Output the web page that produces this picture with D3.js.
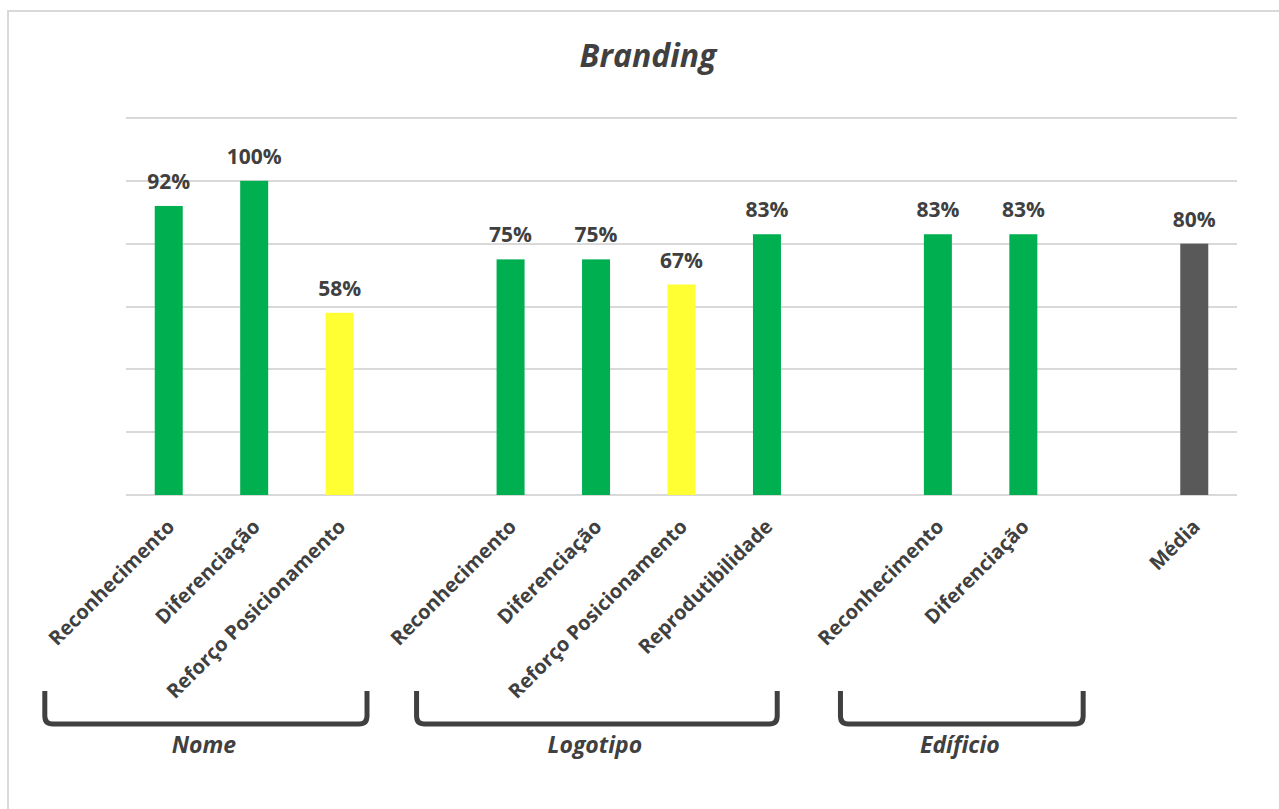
<!DOCTYPE html>
<html>
<head>
<meta charset="utf-8">
<script src="https://cdn.jsdelivr.net/npm/d3@7"></script>
<style>
  html, body { margin: 0; padding: 0; background: #ffffff; }
  svg { display: block; }
  text { font-family: "Open Sans", "DejaVu Sans", sans-serif; }
</style>
</head>
<body>
<svg id="chart" width="1279" height="809"></svg>
<script>
// ---- data ----
const categories = [
  "Reconhecimento", "Diferenciação", "Reforço Posicionamento", "",
  "Reconhecimento", "Diferenciação", "Reforço Posicionamento", "Reprodutibilidade", "",
  "Reconhecimento", "Diferenciação", "",
  "Média"
];
const values = [0.92, 1.00, 0.58, null, 0.75, 0.75, 0.67, 0.83, null, 0.83, 0.83, null, 0.80];
const colorKeys = ["good", "good", "warn", null, "good", "good", "warn", "good", null, "good", "good", null, "avg"];
const groupNames = ["Nome", "Logotipo", "Edíficio"];
const groupFirst = [0, 4, 9];
const groupLast = [2, 7, 10];
const yTicks = [0, 0.2, 0.4, 0.6, 0.8, 1.0, 1.2];
const title = "Branding";

// ---- styles / layout ----
const palette = { good: "#00B050", warn: "#FFFF33", avg: "#595959" };
const textColor = "#404040";
const gridColor = "#D9D9D9";
const plot = { left: 126, right: 1237, top: 118, bottom: 495 };
const barWidth = 28;
// bracket extents relative to first/last slot centers (in units of slot step)
const bracketPad = [[-1.45, 0.32], [-1.1, 0.12], [-1.14, 0.7]];

const svg = d3.select("#chart");

// border of chart area
svg.append("rect")
  .attr("x", 8).attr("y", 11)
  .attr("width", 1400).attr("height", 1000)
  .attr("fill", "none").attr("stroke", gridColor).attr("stroke-width", 2);

const x = d3.scaleBand()
  .domain(d3.range(categories.length))
  .range([plot.left, plot.right])
  .padding(0);
const step = x.step();
const cx = i => x(i) + step / 2;

const y = d3.scaleLinear().domain([0, 1.2]).range([plot.bottom, plot.top]);

// gridlines
svg.append("g")
  .selectAll("line")
  .data(yTicks)
  .join("line")
  .attr("x1", plot.left).attr("x2", plot.right)
  .attr("y1", d => Math.round(y(d))).attr("y2", d => Math.round(y(d)))
  .attr("stroke", gridColor).attr("stroke-width", 2);

// title
svg.append("text")
  .attr("x", 648).attr("y", 67)
  .attr("text-anchor", "middle")
  .attr("font-size", 32).attr("font-weight", 700).attr("font-style", "italic")
  .attr("fill", textColor)
  .text(title);

const data = values.map((v, i) => ({ i, v, c: colorKeys[i], label: categories[i] }))
  .filter(d => d.v !== null);

// bars
svg.append("g")
  .selectAll("rect")
  .data(data)
  .join("rect")
  .attr("x", d => cx(d.i) - barWidth / 2)
  .attr("width", barWidth)
  .attr("y", d => y(d.v))
  .attr("height", d => y(0) - y(d.v))
  .attr("fill", d => palette[d.c]);

// data labels
svg.append("g")
  .selectAll("text")
  .data(data)
  .join("text")
  .attr("x", d => cx(d.i))
  .attr("y", d => y(d.v) - 17)
  .attr("text-anchor", "middle")
  .attr("font-size", 21).attr("font-weight", 700)
  .attr("fill", textColor)
  .text(d => Math.round(d.v * 100) + "%");

// category labels (rotated)
svg.append("g")
  .selectAll("text")
  .data(data)
  .join("text")
  .attr("transform", d => `translate(${cx(d.i) + 7},${plot.bottom + 33}) rotate(-45)`)
  .attr("text-anchor", "end")
  .attr("font-size", 20).attr("font-weight", 700)
  .attr("fill", textColor)
  .text(d => d.label);

// group brackets
const bTop = 691, bBottom = 724, r = 8;
const groups = groupNames.map((name, k) => {
  const l = cx(groupFirst[k]) + bracketPad[k][0] * step;
  const rr = cx(groupLast[k]) + bracketPad[k][1] * step;
  return { name, l, r: rr };
});
svg.append("g")
  .selectAll("path")
  .data(groups)
  .join("path")
  .attr("d", g => `M${g.l},${bTop} V${bBottom - r} Q${g.l},${bBottom} ${g.l + r},${bBottom} H${g.r - r} Q${g.r},${bBottom} ${g.r},${bBottom - r} V${bTop}`)
  .attr("fill", "none")
  .attr("stroke", textColor)
  .attr("stroke-width", 5);

svg.append("g")
  .selectAll("text")
  .data(groups)
  .join("text")
  .attr("x", g => (g.l + g.r) / 2 - 2)
  .attr("y", 753)
  .attr("text-anchor", "middle")
  .attr("font-size", 23).attr("font-weight", 700).attr("font-style", "italic")
  .attr("fill", textColor)
  .text(g => g.name);
</script>
</body>
</html>
